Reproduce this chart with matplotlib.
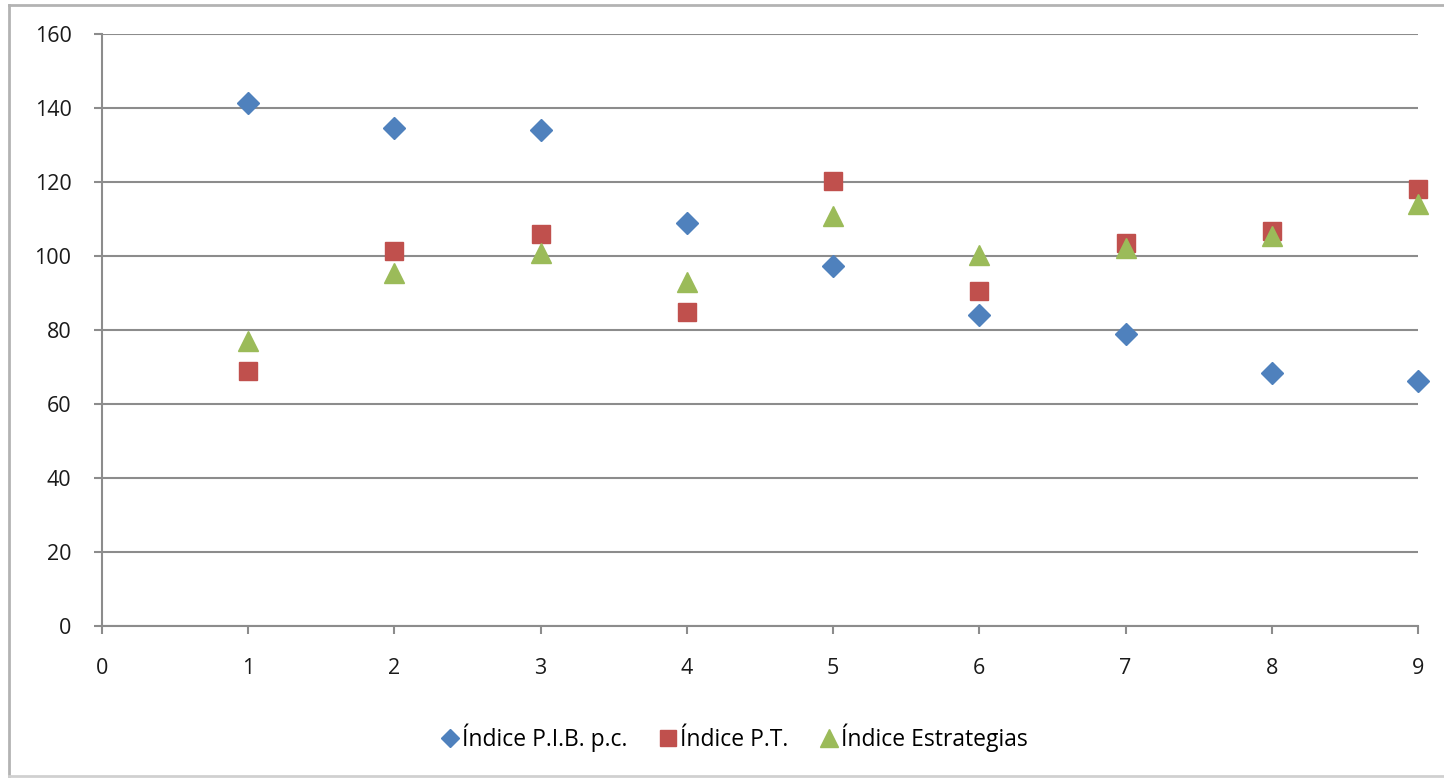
import matplotlib
matplotlib.use("Agg")
import matplotlib.pyplot as plt
from matplotlib.lines import Line2D

plt.rcParams['font.family'] = ['Open Sans', 'DejaVu Sans']

x = [1, 2, 3, 4, 5, 6, 7, 8, 9]
pib = [141.4, 134.6, 134.0, 108.9, 97.3, 84.1, 78.9, 68.4, 66.2]
pt = [68.9, 101.4, 105.9, 84.9, 120.3, 90.5, 103.5, 106.8, 118.1]
estrategias = [77.0, 95.4, 100.8, 93.0, 110.8, 100.3, 102.2, 105.4, 114.1]

labels = ["Índice P.I.B. p.c.", "Índice P.T.", "Índice Estrategias"]
colors = ["#4F81BD", "#C0504D", "#9BBB59"]

W, H = 1444, 778
fig = plt.figure(figsize=(W / 100, H / 100), dpi=100)
ax = fig.add_axes([102 / W, (H - 626) / H, (1418 - 102) / W, (626 - 34) / H])

ax.set_xlim(0, 9)
ax.set_ylim(0, 160)
ax.set_xticks(range(0, 10))
ax.set_yticks(range(0, 161, 20))

grid_color = "#8c8c8c"
ax.yaxis.grid(True, color=grid_color, linewidth=1.5)
ax.set_axisbelow(True)
for s in ["top", "right"]:
    ax.spines[s].set_visible(False)
for s in ["left", "bottom"]:
    ax.spines[s].set_color(grid_color)
    ax.spines[s].set_linewidth(1.5)
ax.tick_params(axis="both", colors=grid_color, length=6, width=1.5,
               labelcolor="#1a1a1a", labelsize=15.5)
ax.tick_params(axis="x", pad=17)
ax.tick_params(axis="y", pad=16)

ax.plot(x, pib, linestyle="none", marker="D", markersize=11,
        color=colors[0], clip_on=False, zorder=3)
ax.plot(x, pt, linestyle="none", marker="s", markersize=13,
        color=colors[1], clip_on=False, zorder=3)
ax.plot(x, estrategias, linestyle="none", marker="^", markersize=14,
        color=colors[2], clip_on=False, zorder=4)

handles = [
    Line2D([], [], linestyle="none", marker="D", markersize=9, color=colors[0]),
    Line2D([], [], linestyle="none", marker="s", markersize=12, color=colors[1]),
    Line2D([], [], linestyle="none", marker="^", markersize=13, color=colors[2]),
]
fig.legend(handles, labels, loc="center", bbox_to_anchor=(0.508, (H - 738) / H),
           ncol=3, frameon=False, fontsize=16.5, handletextpad=0.1,
           columnspacing=1.3, handlelength=0.9)

# outer chart frame
frame_color = "#b3b3b3"
fig.add_artist(Line2D([9 / W, 9 / W], [2 / H, (H - 5) / H], color=frame_color,
                      linewidth=2, transform=fig.transFigure))
fig.add_artist(Line2D([9 / W, 1.0], [(H - 5) / H, (H - 5) / H], color=frame_color,
                      linewidth=2, transform=fig.transFigure))
fig.add_artist(Line2D([9 / W, 1.0], [2 / H, 2 / H], color="#d0d0d0",
                      linewidth=2, transform=fig.transFigure))

fig.savefig("out.png", dpi=100)
